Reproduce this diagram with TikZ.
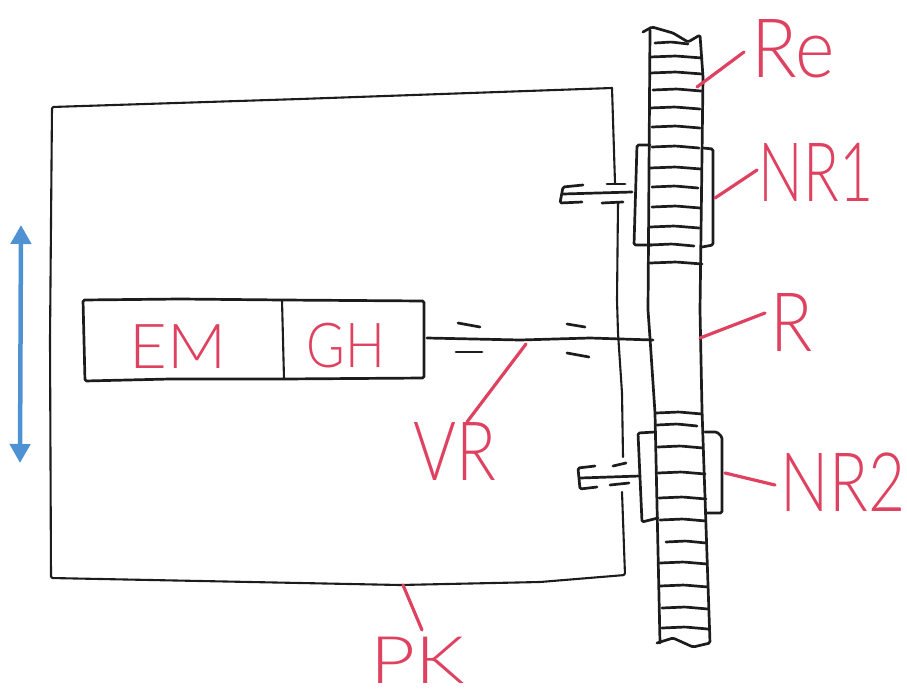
\documentclass[tikz,border=0pt]{standalone}
\usepackage{fontspec}
\setmainfont{Lato}[UprightFont={* Light}]
\usetikzlibrary{arrows.meta}
\definecolor{inkred}{RGB}{222,66,96}
\definecolor{inkblack}{RGB}{28,28,28}
\definecolor{inkblue}{RGB}{78,146,212}
\tikzset{
  ink/.style={draw=inkblack,line width=2.7pt,line join=round,line cap=round,rounded corners=1.5pt},
  thin ink/.style={ink,line width=2.1pt},
  leader/.style={draw=inkred,line width=3.2pt,line cap=round},
  biglabel/.style={text=inkred,inner sep=0pt,font=\fontsize{82}{82}\selectfont,transform shape},
  smalllabel/.style={text=inkred,inner sep=0pt,font=\fontsize{62}{62}\selectfont,transform shape},
  motion/.style={draw=inkblue,line width=4.5pt,{Triangle[width=20pt,length=19pt]}-{Triangle[width=20pt,length=19pt]}}
}
\begin{document}
\begin{tikzpicture}[x=1pt,y=-1pt]
\useasboundingbox (0,0) rectangle (907,699);
% housing
\draw[thin ink] (612,88) -- (300,99) -- (52,107) -- (50,340) -- (51,578) -- (400,585) -- (540,582) -- (625,575) -- (622,492);
\draw[thin ink] (612,88) -- (615,183);
\draw[thin ink] (618,203) -- (617,300) -- (618,333) -- (622,393) -- (623,457);
% motor + gearbox
\draw[ink] (83,300) -- (180,299) -- (283,300) -- (424,301) -- (424,378) -- (283,379) -- (170,379) -- (85,381) -- cycle;
\draw[thin ink] (282,300) -- (284,379);
% shaft
\coordinate (shaftA) at (427,338);
\coordinate (shaftB) at (653,340);
\draw[ink] (shaftA) -- (520,340) -- (590,338) -- (shaftB);
\draw[ink] (458,323) -- (480,327);
\draw[ink] (456,352) -- (482,352);
\draw[ink] (567,324) -- (585,327);
\draw[ink] (567,353) -- (589,357);
% rack outline
\draw[ink] (643,32) -- (652,27) -- (673,33) -- (688,42) -- (700,35) -- (703,77) -- (700,310) -- (702,410) -- (710,643) -- (693,647) -- (673,638) -- (657,643);
\draw[ink] (650,30) -- (648,310) -- (650,338) -- (655,413) -- (660,643);
% rack teeth
\foreach \xa/\xb/\yy in {655/688/43,650/702/57,650/702/73,653/701/90,650/700/108,652/700/127,652/699/147,650/701/168,652/698/187,652/700/207,650/699/227,650/694/245,650/702/263,
  656/702/413,657/697/425,658/703/447,658/705/473,659/706/498,660/706/520,666/706/542,660/707/563,660/708/586,662/708/608,662/708/628}{
  \draw[ink] (\xa,\yy) -- ({(\xa+\xb)/2},\yy-1) -- (\xb,\yy+1);
}
% upper pinion NR1
\draw[ink] (650,145) -- (637,145) -- (634,245) -- (652,245);
\draw[ink] (703,148) -- (713,149) -- (713,245) -- (702,247);
\draw[ink] (583,185) -- (563,187) -- (560,203) -- (582,202);
\draw[ink] (563,194) -- (632,192);
\draw[ink] (607,184) -- (625,184);
\draw[ink] (602,203) -- (623,202);
% lower pinion NR2
\draw[ink] (655,432) -- (638,433) -- (642,522) -- (658,518);
\draw[ink] (705,432) -- (717,432) -- (722,437) -- (722,513) -- (707,513);
\draw[ink] (595,466) -- (578,468) -- (580,489) -- (597,487);
\draw[ink] (580,478) -- (640,476);
\draw[ink] (613,466) -- (626,463);
\draw[ink] (610,485) -- (629,483);
% motion arrow
\coordinate (moveA) at (21,225);
\coordinate (moveB) at (20,463);
\draw[motion] (moveA) -- (moveB);
% labels
\node[biglabel,xscale=.92] (Re) at (793,49) {Re};
\node[biglabel,xscale=.72] (NRone) at (816,172) {NR1};
\node[biglabel,xscale=.85] (Rr) at (792,322) {R};
\node[biglabel,xscale=.78] (NRtwo) at (843,482) {NR2};
\node[smalllabel,xscale=1.05] (EM) at (178,347) {EM};
\node[smalllabel,xscale=.85] (GH) at (346,346) {GH};
\node[biglabel,xscale=.8] (VR) at (455,451) {VR};
\node[biglabel,xscale=.95,yscale=.8] (PK) at (418,660) {PK};
% leaders
\coordinate (lReA) at (744,52);   \coordinate (lReB) at (697,87);
\coordinate (lNoA) at (757,170);  \coordinate (lNoB) at (715,198);
\coordinate (lRA)  at (765,313);  \coordinate (lRB)  at (700,338);
\coordinate (lNtA) at (775,485);  \coordinate (lNtB) at (725,473);
\coordinate (lVA)  at (467,422);  \coordinate (lVB)  at (526,344);
\coordinate (lPA)  at (422,630);  \coordinate (lPB)  at (403,585);
\draw[leader] (lReA) -- (lReB);
\draw[leader] (lNoA) -- (lNoB);
\draw[leader] (lRA) -- (lRB);
\draw[leader] (lNtA) -- (lNtB);
\draw[leader] (lVA) -- (lVB);
\draw[leader] (lPA) -- (lPB);
\end{tikzpicture}
\end{document}
